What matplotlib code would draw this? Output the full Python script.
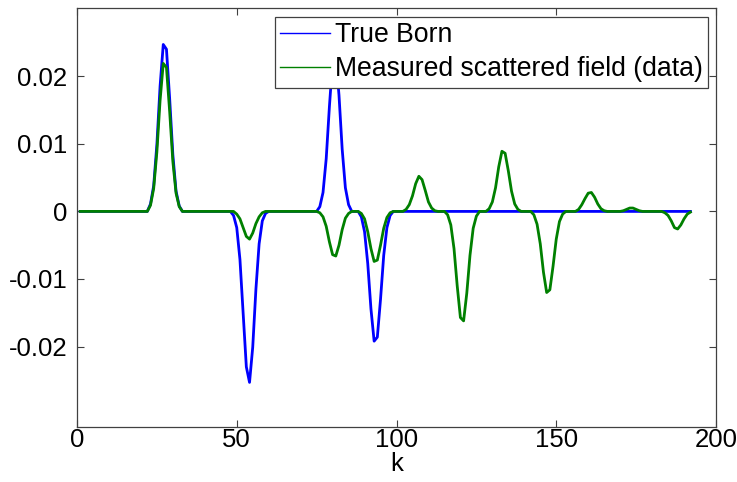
import numpy as np
import matplotlib
matplotlib.use('Agg')
import matplotlib.pyplot as plt

plt.rcParams['font.family'] = ['Liberation Sans', 'DejaVu Sans']

# samples k = 1..192, zero except near the peaks listed below
k = np.arange(1, 193)

born_k = [23, 24, 25, 26, 27, 28, 29, 30, 31, 32,
          49, 50, 51, 52, 53, 54, 55, 56, 57, 58, 59,
          76, 77, 78, 79, 80, 81, 82, 83, 84, 85,
          89, 90, 91, 92, 93, 94, 95, 96, 97, 98]
born_v = [0.0011, 0.0038, 0.0099, 0.0185, 0.0247, 0.0240, 0.0167, 0.0084, 0.0030, 0.0008,
          -0.0006, -0.0024, -0.0071, -0.0150, -0.0230, -0.0253, -0.0201, -0.0115, -0.0048, -0.0014, -0.0003,
          0.0007, 0.0028, 0.0078, 0.0155, 0.0222, 0.0229, 0.0172, 0.0092, 0.0035, 0.0010,
          -0.0008, -0.0030, -0.0077, -0.0144, -0.0192, -0.0186, -0.0130, -0.0065, -0.0024, -0.0006]

meas_k = [23, 24, 25, 26, 27, 28, 29, 30, 31, 32,
          50, 51, 52, 53, 54, 55, 56, 57, 58,
          76, 77, 78, 79, 80, 81, 82, 83, 84, 85,
          89, 90, 91, 92, 93, 94, 95, 96, 97, 98,
          103, 104, 105, 106, 107, 108, 109, 110, 111, 112,
          116, 117, 118, 119, 120, 121, 122, 123, 124, 125,
          129, 130, 131, 132, 133, 134, 135, 136, 137, 138,
          143, 144, 145, 146, 147, 148, 149, 150, 151, 152,
          157, 158, 159, 160, 161, 162, 163, 164, 165,
          171, 172, 173, 174, 175, 176,
          184, 185, 186, 187, 188, 189, 190, 191, 192]
meas_v = [0.0009, 0.0034, 0.0088, 0.0164, 0.0219, 0.0213, 0.0148, 0.0074, 0.0027, 0.0007,
          -0.0004, -0.0011, -0.0024, -0.0037, -0.0041, -0.0032, -0.0018, -0.0008, -0.0002,
          -0.0002, -0.0008, -0.0022, -0.0045, -0.0064, -0.0066, -0.0050, -0.0027, -0.0010, -0.0003,
          -0.0003, -0.0011, -0.0030, -0.0055, -0.0074, -0.0072, -0.0050, -0.0025, -0.0009, -0.0002,
          0.0003, 0.0010, 0.0023, 0.0041, 0.0052, 0.0047, 0.0031, 0.0014, 0.0005, 0.0001,
          -0.0005, -0.0020, -0.0055, -0.0110, -0.0157, -0.0162, -0.0121, -0.0065, -0.0025, -0.0007,
          0.0004, 0.0014, 0.0035, 0.0066, 0.0089, 0.0086, 0.0060, 0.0030, 0.0011, 0.0003,
          -0.0005, -0.0019, -0.0048, -0.0090, -0.0120, -0.0116, -0.0081, -0.0041, -0.0015, -0.0004,
          0.0003, 0.0010, 0.0019, 0.0027, 0.0028, 0.0021, 0.0011, 0.0004, 0.0001,
          0.0001, 0.0003, 0.0005, 0.0005, 0.0003, 0.0001,
          -0.0002, -0.0006, -0.0014, -0.0024, -0.0026, -0.0020, -0.0011, -0.0004, -0.0001]

born = np.zeros(len(k))
born[np.array(born_k) - 1] = born_v
meas = np.zeros(len(k))
meas[np.array(meas_k) - 1] = meas_v

xticks = [0, 50, 100, 150, 200]
yticks = [-0.02, -0.01, 0, 0.01, 0.02]
ytick_labels = ['-0.02', '-0.01', '0', '0.01', '0.02']

fig = plt.figure(figsize=(7.37, 4.82), dpi=100)
ax = fig.add_axes([77/737, 1 - 427/482, (716 - 77)/737, (427 - 8)/482])

ax.plot(k, born, color='#0000ff', lw=2.0, label='True Born')
ax.plot(k, meas, color='#008000', lw=2.0, label='Measured scattered field (data)')

ax.set_xlim(0, 200)
ax.set_ylim(-0.0319, 0.0301)
ax.set_xticks(xticks)
ax.set_yticks(yticks)
ax.set_yticklabels(ytick_labels)
ax.tick_params(direction='in', length=5, width=0.8, color='#404040',
               top=True, right=True, labelsize=18.5)
ax.tick_params(axis='x', pad=1)
ax.tick_params(axis='y', pad=7)
for s in ax.spines.values():
    s.set_color('#404040')
    s.set_linewidth(0.9)
ax.set_xlabel('k', fontsize=18.5, labelpad=0)

leg = ax.legend(loc='upper right', bbox_to_anchor=(0.9875, 0.9785), borderaxespad=0,
                fontsize=19.2, fancybox=False, framealpha=1, edgecolor='#404040',
                handlelength=1.87, handletextpad=0.19, borderpad=0.2,
                labelspacing=0.3)
leg.get_frame().set_linewidth(0.9)
for line in leg.get_lines():
    line.set_linewidth(1.0)

fig.savefig('out.png', dpi=100)
